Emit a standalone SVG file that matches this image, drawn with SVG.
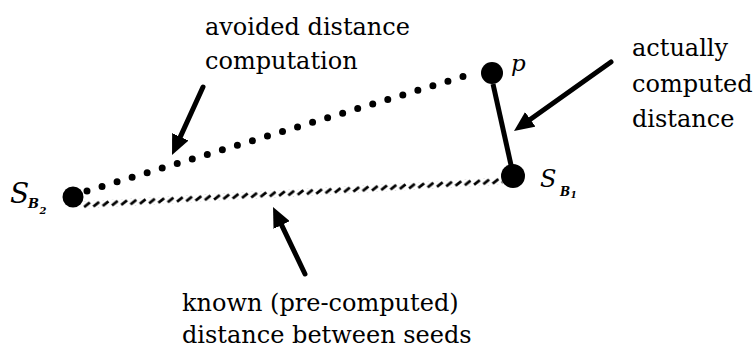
<svg xmlns="http://www.w3.org/2000/svg" width="756" height="350" viewBox="0 0 756 350">
  <style>
    text { font-family: 'DejaVu Serif', serif; fill: #000; }
    .lbl { font-size: 24px; }
    .it { font-style: italic; }
    .sub { font-style: italic; font-weight: bold; }
    .node { fill: #000; }
    .arrow { stroke: #000; stroke-width: 5; fill: none; stroke-linecap: round; marker-end: url(#head); }
  </style>
  <defs>
    <marker id="head" markerUnits="userSpaceOnUse" markerWidth="20" markerHeight="18" refX="8" refY="9" orient="auto" viewBox="0 0 20 18">
      <path d="M0,0 L20,9 L0,18 z" fill="#000"/>
    </marker>
    <pattern id="hatch" patternUnits="userSpaceOnUse" x="0" y="-3.5" width="9.3" height="7">
      <line x1="1" y1="5.6" x2="7" y2="1.4" stroke="#000" stroke-width="2.8"/>
    </pattern>
  </defs>
  <rect width="756" height="350" fill="#fff"/>

  <g id="connectors">
    <line id="avoided" x1="87" y1="191" x2="478" y2="72" stroke="#000" stroke-width="7" stroke-linecap="round" stroke-dasharray="0 15.72"/>
    <g id="known" transform="translate(83,205) rotate(-3.28)">
      <rect x="0" y="-3.5" width="420" height="7" fill="url(#hatch)"/>
    </g>
    <line id="computed" x1="493" y1="84" x2="511" y2="165" stroke="#000" stroke-width="5"/>
    <line class="arrow" x1="203" y1="87" x2="177" y2="144.1"/>
    <line class="arrow" x1="611" y1="62" x2="523.8" y2="124"/>
    <line class="arrow" x1="305" y1="274" x2="278.2" y2="217.8"/>
  </g>

  <g id="node-sb2">
    <circle class="node" cx="73" cy="197" r="10.5"/>
    <text class="it" x="10" y="203" font-size="28">S</text>
    <text class="sub" x="28" y="208" font-size="13">B</text>
    <text class="sub" x="39.5" y="214" font-size="10">2</text>
  </g>
  <g id="node-p">
    <circle class="node" cx="492" cy="73" r="11"/>
    <text class="it" x="511" y="71" font-size="23">p</text>
  </g>
  <g id="node-sb1">
    <circle class="node" cx="513" cy="176" r="12"/>
    <text class="it" x="540" y="187" font-size="24">S</text>
    <text class="sub" x="560" y="196" font-size="12">B</text>
    <text class="sub" x="570.5" y="198" font-size="9">1</text>
  </g>

  <g id="label-avoided">
    <text class="lbl" x="205" y="35">avoided distance</text>
    <text class="lbl" x="205" y="69">computation</text>
  </g>
  <g id="label-actual">
    <text class="lbl" x="632" y="56">actually</text>
    <text class="lbl" x="632" y="92">computed</text>
    <text class="lbl" x="632" y="127">distance</text>
  </g>
  <g id="label-known">
    <text class="lbl" x="182" y="311">known (pre-computed)</text>
    <text class="lbl" x="182" y="343">distance between seeds</text>
  </g>
</svg>
